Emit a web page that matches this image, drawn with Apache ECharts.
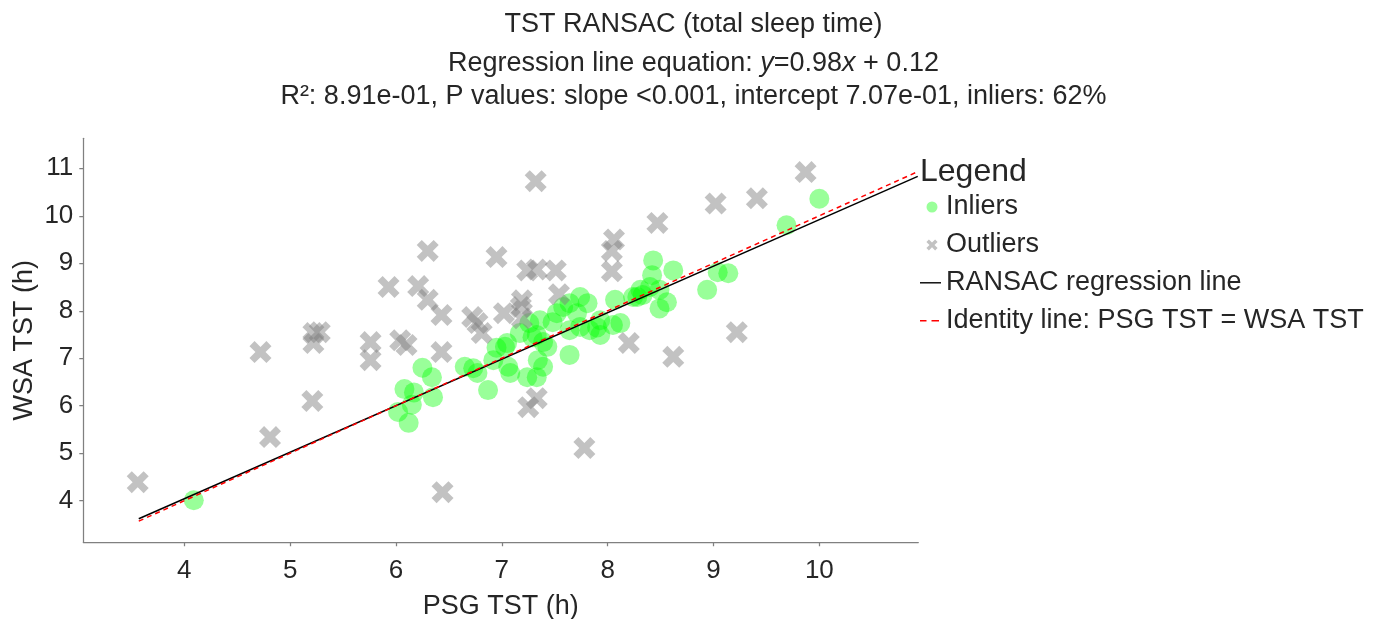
<!DOCTYPE html>
<html>
<head>
<meta charset="utf-8">
<script src="https://cdn.jsdelivr.net/npm/echarts@6/dist/echarts.min.js"></script>
<style>
html,body{margin:0;padding:0;background:#ffffff;}
#chart{width:1387px;height:619px;}
</style>
</head>
<body>
<div id="chart"></div>
<script>
// ---- data ----
const inliersX = [4.09, 6.02, 6.08, 6.17, 6.12, 6.15, 6.25, 6.34, 6.35,
  6.65, 6.73, 6.77, 6.87, 6.95, 7.03, 6.92, 7.06, 7.08, 7.24, 7.33, 7.39, 7.17, 7.33, 7.43, 7.05,
  7.74, 7.64, 8.07, 8.28, 7.71, 7.52, 7.58, 7.93, 8.05, 7.83, 7.93, 7.74, 7.64, 7.48, 7.36, 7.26,
  7.29, 7.39, 7.34, 7.64, 7.81, 7.90,
  8.43, 8.42, 8.62, 8.31, 8.40, 8.49, 8.56, 8.49, 8.24, 8.33, 8.12, 8.94, 9.04, 9.14, 9.69, 10.00];
const inliersY = [4.01, 5.87, 6.35, 6.28, 5.64, 6.02, 6.80, 6.60, 6.18,
  6.82, 6.79, 6.69, 6.33, 7.22, 7.24, 6.96, 6.82, 6.69, 6.60, 6.60, 6.82, 7.53, 7.49, 7.24, 7.32,
  8.29, 8.16, 8.23, 8.29, 7.95, 7.95, 8.08, 7.80, 7.70, 7.59, 7.49, 7.66, 7.59, 7.76, 7.80, 7.74,
  7.44, 7.34, 6.96, 7.07, 8.16, 7.65,
  9.06, 8.75, 8.85, 8.44, 8.50, 8.44, 8.18, 8.05, 8.29, 8.33, 7.74, 8.44, 8.81, 8.79, 9.80, 10.36];

const outliersX = [3.56, 4.81, 4.72, 5.21, 5.22, 5.28, 5.22, 5.76, 5.76, 5.93, 6.04, 6.10,
  6.30, 6.21, 6.30, 6.43, 6.43, 6.44, 6.95, 6.72, 6.77, 6.81, 7.02, 7.32, 7.19, 7.24, 7.33,
  7.51, 7.18, 7.19, 7.54, 7.25, 7.33, 7.78, 8.06, 8.04, 8.04, 8.47, 8.20, 8.62, 9.02, 9.41,
  9.87, 9.22];
const outliersY = [4.39, 5.34, 7.13, 6.10, 7.53, 7.55, 7.32, 7.34, 6.96, 8.50, 7.38, 7.28,
  9.26, 8.52, 8.23, 7.91, 7.13, 4.18, 9.13, 7.87, 7.74, 7.53, 7.95, 10.73, 8.22, 8.85, 8.87,
  8.85, 8.08, 7.84, 8.35, 5.97, 6.16, 5.11, 9.50, 9.26, 8.83, 9.85, 7.32, 7.03, 10.26, 10.37,
  10.92, 7.55];

const ransacLineX = [3.57, 10.93];
const ransacLineY = [3.62, 10.83];
const identityLineX = [3.57, 10.93];
const identityLineY = [3.57, 10.93];

const xTicks = [4, 5, 6, 7, 8, 9, 10];
const yTicks = [4, 5, 6, 7, 8, 9, 10, 11];

const titleLine1 = 'TST RANSAC (total sleep time)';
const titleLine2Parts = ['Regression line equation: ', 'y', '=0.98', 'x', ' + 0.12'];
const titleLine3 = 'R²: 8.91e-01, P values: slope <0.001, intercept 7.07e-01, inliers: 62%';
const legendTitle = 'Legend';
const seriesNames = ['Inliers', 'Outliers', 'RANSAC regression line', 'Identity line: PSG TST = WSA TST'];
const xAxisName = 'PSG TST (h)';
const yAxisName = 'WSA TST (h)';

// ---- styling ----
const FONT = '"Liberation Sans", Arial, sans-serif';
const TXT = '#262626';
const SPINE = '#808080';
const GREEN = 'rgba(0,255,0,0.5)';
const GRAY = 'rgba(128,128,128,0.6)';
const X_PATH = 'path://M23,0 L50,27 L77,0 L100,23 L73,50 L100,77 L77,100 L50,73 L23,100 L0,77 L27,50 L0,23 Z';

const pairs = (xs, ys) => xs.map((x, i) => [x, ys[i]]);

const chart = echarts.init(document.getElementById('chart'), null, {renderer: 'canvas'});

const option = {
  animation: false,
  backgroundColor: '#ffffff',
  textStyle: {fontFamily: FONT},
  title: [
    {text: titleLine1, left: 'center', top: 11.5, padding: 0,
     textStyle: {fontFamily: FONT, fontSize: 27, fontWeight: 'normal', color: TXT, lineHeight: 27}},
    {text: '{n|' + titleLine2Parts[0] + '}{i|' + titleLine2Parts[1] + '}{n|' + titleLine2Parts[2] +
           '}{i|' + titleLine2Parts[3] + '}{n|' + titleLine2Parts[4] + '}',
     left: 'center', top: 50, padding: 0,
     textStyle: {fontFamily: FONT, fontSize: 27, fontWeight: 'normal', color: TXT, lineHeight: 27,
       rich: {
         n: {fontFamily: FONT, fontSize: 27, color: TXT, lineHeight: 27},
         i: {fontFamily: FONT, fontSize: 27, color: TXT, fontStyle: 'italic', lineHeight: 27}
       }}},
    {text: titleLine3, left: 'center', top: 83, padding: 0,
     textStyle: {fontFamily: FONT, fontSize: 27, fontWeight: 'normal', color: TXT, lineHeight: 27}},
    {text: legendTitle, left: 920, top: 156, padding: 0,
     textStyle: {fontFamily: FONT, fontSize: 32, fontWeight: 'normal', color: TXT, lineHeight: 32}}
  ],
  legend: {
    orient: 'vertical',
    left: 920,
    top: 193.5,
    padding: 0,
    itemWidth: 21,
    itemHeight: 12,
    itemGap: 10.9,
    selectedMode: false,
    textStyle: {fontFamily: FONT, fontSize: 27, color: TXT, lineHeight: 27},
    data: [
      {name: seriesNames[0],
       icon: 'path://M0,0 M21,12 M17.5,6 A5.5,5.5 0 1 1 6.5,6 A5.5,5.5 0 1 1 17.5,6 Z',
       itemStyle: {color: GREEN, borderWidth: 0}},
      {name: seriesNames[1],
       icon: 'path://M0,0 M21,12 M8.9,0.5 L12,3.6 L15.1,0.5 L17.6,3 L14.5,6 L17.6,9 L15.1,11.5 L12,8.4 L8.9,11.5 L6.4,9 L9.5,6 L6.4,3 Z',
       itemStyle: {color: GRAY, borderWidth: 0}},
      {name: seriesNames[2],
       icon: 'path://M0,0 M21,12 M0,5.3 L21,5.3 L21,6.7 L0,6.7 Z',
       itemStyle: {color: '#000000', borderWidth: 0}},
      {name: seriesNames[3],
       icon: 'path://M0,0 M21,12 M0,5.3 L6.5,5.3 L6.5,6.7 L0,6.7 Z M11.5,5.3 L19,5.3 L19,6.7 L11.5,6.7 Z',
       itemStyle: {color: '#ff0000', borderWidth: 0}}
    ]
  },
  grid: {left: 83.3, right: 468.7, top: 138.3, bottom: 76.7, containLabel: false, outerBoundsMode: 'none'},
  xAxis: {
    type: 'value',
    min: 3.046,
    max: 10.935,
    name: xAxisName,
    nameLocation: 'middle',
    nameGap: 50.5,
    nameMoveOverlap: false,
    nameTextStyle: {fontFamily: FONT, fontSize: 27, color: TXT},
    axisLine: {show: true, onZero: false, lineStyle: {color: SPINE, width: 1.25}},
    axisTick: {show: true, inside: false, length: 4, customValues: xTicks, lineStyle: {color: SPINE, width: 1.25}},
    axisLabel: {show: true, customValues: xTicks, margin: 16, fontFamily: FONT, fontSize: 26, color: TXT},
    splitLine: {show: false}
  },
  yAxis: {
    type: 'value',
    min: 3.124,
    max: 11.632,
    name: yAxisName,
    nameLocation: 'middle',
    nameGap: 45.5,
    nameMoveOverlap: false,
    nameTextStyle: {fontFamily: FONT, fontSize: 27, color: TXT},
    axisLine: {show: true, onZero: false, lineStyle: {color: SPINE, width: 1.25}},
    axisTick: {show: true, inside: false, length: 4, customValues: yTicks, lineStyle: {color: SPINE, width: 1.25}},
    axisLabel: {show: true, customValues: yTicks, margin: 10, fontFamily: FONT, fontSize: 26, color: TXT},
    splitLine: {show: false}
  },
  series: [
    {
      name: seriesNames[0],
      type: 'scatter',
      symbol: 'circle',
      symbolSize: 20,
      itemStyle: {color: GREEN},
      emphasis: {disabled: true},
      z: 2,
      data: pairs(inliersX, inliersY)
    },
    {
      name: seriesNames[1],
      type: 'scatter',
      symbol: X_PATH,
      symbolSize: 22,
      itemStyle: {color: GRAY},
      emphasis: {disabled: true},
      z: 3,
      data: pairs(outliersX, outliersY)
    },
    {
      name: seriesNames[2],
      type: 'line',
      showSymbol: false,
      symbol: 'none',
      lineStyle: {color: '#000000', width: 1.5},
      itemStyle: {color: '#000000'},
      emphasis: {disabled: true},
      z: 4,
      data: pairs(ransacLineX, ransacLineY)
    },
    {
      name: seriesNames[3],
      type: 'line',
      showSymbol: false,
      symbol: 'none',
      lineStyle: {color: '#ff0000', width: 1.5, type: [5, 4]},
      itemStyle: {color: '#ff0000'},
      emphasis: {disabled: true},
      z: 5,
      data: pairs(identityLineX, identityLineY)
    }
  ]
};

chart.setOption(option);
</script>
</body>
</html>
